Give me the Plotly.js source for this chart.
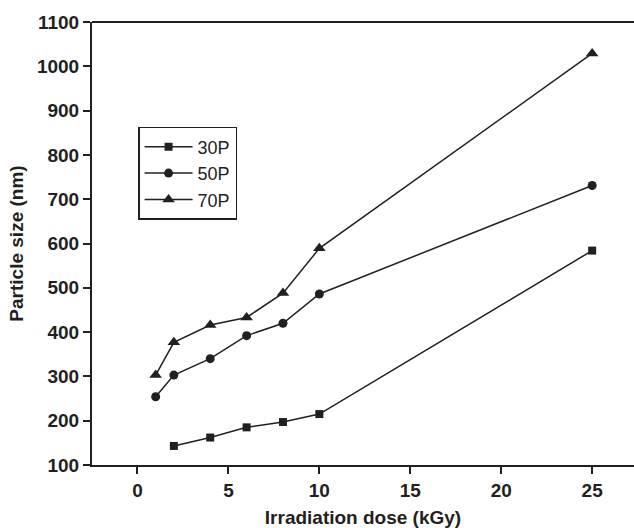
<!DOCTYPE html>
<html>
<head>
<meta charset="utf-8">
<script src="https://cdn.plot.ly/plotly-3.0.1.min.js"></script>
<style>body{margin:0;padding:0;background:#fff}#chart{width:634px;height:528px}</style>
</head>
<body>
<div id="chart"></div>
<script>
const dose30 = [2, 4, 6, 8, 10, 25];
const size30 = [143, 162, 185, 197, 215, 584];
const dose50 = [1, 2, 4, 6, 8, 10, 25];
const size50 = [254, 303, 340, 392, 420, 486, 731];
const dose70 = [1, 2, 4, 6, 8, 10, 25];
const size70 = [303, 377, 416, 433, 488, 589, 1029];
const seriesNames = ['30P', '50P', '70P'];
const xTicks = [0, 5, 10, 15, 20, 25];
const yTicks = [100, 200, 300, 400, 500, 600, 700, 800, 900, 1000, 1100];

const ink = '#231f20';
const fam = 'Liberation Sans, Arial, sans-serif';
function tr(x, y, name, sym, sz) {
  return {x: x, y: y, name: name, type: 'scatter', mode: 'lines+markers',
    line: {color: ink, width: 1.5},
    marker: {symbol: sym, size: sz, color: ink}};
}
const data = [
  tr(dose30, size30, seriesNames[0], 'square', 8),
  tr(dose50, size50, seriesNames[1], 'circle', 9),
  tr(dose70, size70, seriesNames[2], 'triangle-up', 11)
];
const layout = {
  width: 634, height: 528,
  margin: {l: 92, r: 0, t: 22, b: 63},
  paper_bgcolor: '#fff', plot_bgcolor: '#fff',
  font: {family: fam, color: ink},
  showlegend: true,
  legend: {x: 0.085, y: 0.763, xanchor: 'left', yanchor: 'top',
    bordercolor: ink, borderwidth: 1.5, bgcolor: '#fff',
    font: {size: 18, color: ink}, tracegroupgap: 0, itemwidth: 48},
  xaxis: {range: [-2.5, 27.3], tickvals: xTicks, ticks: 'outside', ticklen: 7, tickwidth: 2,
    tickcolor: ink, showline: true, linecolor: ink, linewidth: 2, showgrid: false, zeroline: false,
    tickfont: {size: 19, family: fam, weight: 'bold', color: ink},
    title: {text: '<b>Irradiation dose (kGy)</b>', font: {size: 19, color: ink}, standoff: 16}},
  yaxis: {range: [100, 1100], tickvals: yTicks, ticks: 'outside', ticklen: 7, tickwidth: 2,
    tickcolor: ink, showline: true, linecolor: ink, linewidth: 2, showgrid: false, zeroline: false,
    tickfont: {size: 19, family: fam, weight: 'bold', color: ink},
    title: {text: '<b>Particle size (nm)</b>', font: {size: 19, color: ink}, standoff: 8}},
  shapes: [{type: 'line', xref: 'paper', yref: 'paper', x0: 0, x1: 1, y0: 1, y1: 1,
    line: {color: ink, width: 2}}]
};
Plotly.newPlot('chart', data, layout, {displayModeBar: false, staticPlot: true});
</script>
</body>
</html>
